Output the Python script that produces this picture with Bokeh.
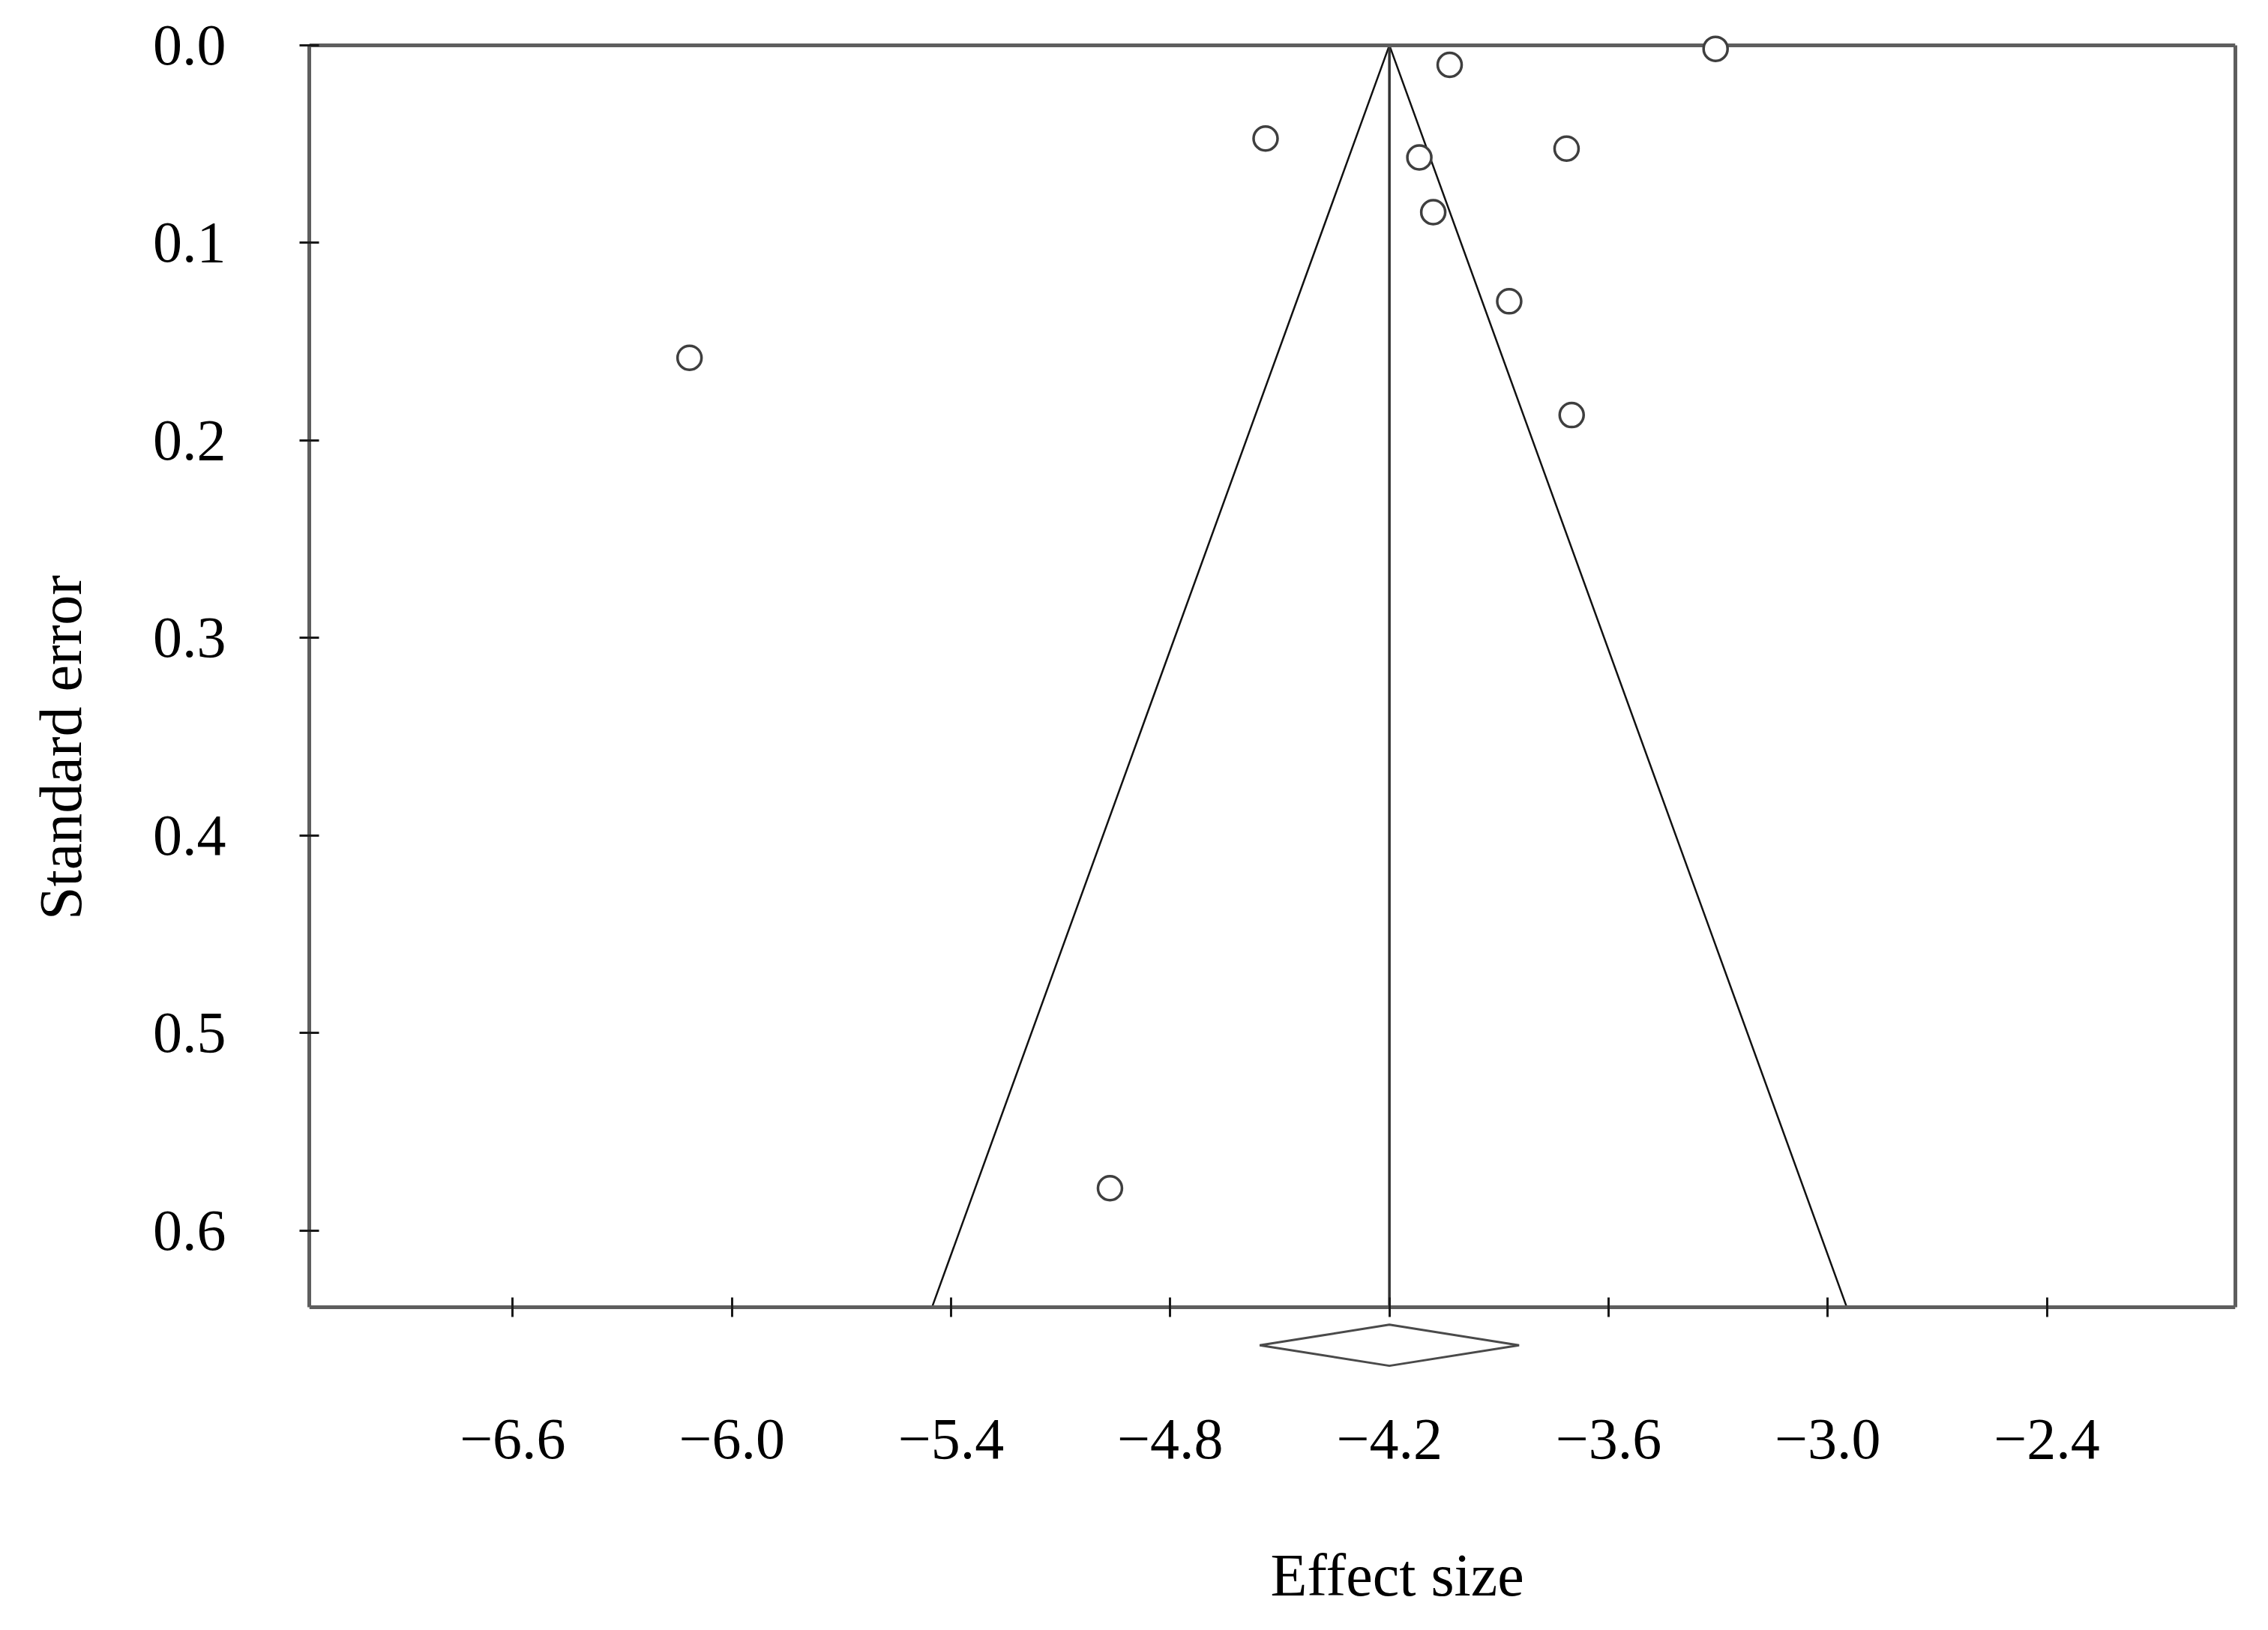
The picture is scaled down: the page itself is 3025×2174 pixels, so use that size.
from bokeh.plotting import figure
from bokeh.models import Range1d, LinearAxis, FixedTicker, CustomJSTickFormatter, Title
from bokeh.embed import file_html
from bokeh.resources import INLINE

# ---------------- data ----------------
STUDY_EFFECT = [-3.307, -4.035, -4.539, -3.715, -4.118, -4.080, -3.872, -3.701, -6.116, -4.965]
STUDY_SE = [0.0018, 0.0099, 0.0472, 0.0523, 0.0568, 0.0845, 0.1296, 0.1872, 0.1582, 0.5786]
POOLED_EFFECT = -4.20
POOLED_CI = [-4.555, -3.845]
Z_95 = 1.96
SE_MAX = 0.6387

X_TICKS = [-6.6, -6.0, -5.4, -4.8, -4.2, -3.6, -3.0, -2.4]
X_TICK_LABELS = ["\u22126.6", "\u22126.0", "\u22125.4", "\u22124.8", "\u22124.2", "\u22123.6", "\u22123.0", "\u22122.4"]
Y_TICKS = [0.0, 0.1, 0.2, 0.3, 0.4, 0.5, 0.6]
Y_TICK_LABELS = ["0.0", "0.1", "0.2", "0.3", "0.4", "0.5", "0.6"]
X_LABEL = "Effect size"
Y_LABEL = "Standard error"

# ---------------- style ----------------
FONT = "Liberation Serif"
AXIS_COLOR = "#5e5e5e"
TICK_COLOR = "#1a1a1a"

p = figure(width=3017, height=2166, output_backend="svg", toolbar_location=None,
           x_range=Range1d(-7.157, -1.884), y_range=Range1d(0.7307, -0.0197),
           min_border_left=412, min_border_right=36, min_border_top=8, min_border_bottom=181)
p.grid.visible = False
p.outline_line_color = None
p.background_fill_color = "white"
p.border_fill_color = "white"


def label_formatter(vals, texts):
    return CustomJSTickFormatter(args=dict(tick_vals=vals, tick_texts=texts), code="""
        let best = 0;
        for (let i = 0; i < tick_vals.length; i++) {
            if (Math.abs(tick_vals[i] - tick) < Math.abs(tick_vals[best] - tick)) best = i;
        }
        return tick_texts[best];
    """)


def style_axis(ax):
    ax.axis_line_color = AXIS_COLOR
    ax.axis_line_width = 5
    ax.major_tick_line_color = TICK_COLOR
    ax.major_tick_line_width = 3
    ax.major_tick_in = 13
    ax.major_tick_out = 13
    ax.minor_tick_line_color = None
    ax.major_label_text_font = FONT
    ax.major_label_text_font_size = "78px"
    ax.major_label_text_color = "black"


# bottom axis at the largest standard error
xa = p.xaxis[0]
style_axis(xa)
xa.fixed_location = SE_MAX
xa.ticker = FixedTicker(ticks=X_TICKS)
xa.formatter = label_formatter(X_TICKS, X_TICK_LABELS)
xa.major_label_standoff = 138

# left axis
ya = p.yaxis[0]
style_axis(ya)
ya.bounds = (0, SE_MAX)
ya.ticker = FixedTicker(ticks=Y_TICKS)
ya.formatter = label_formatter(Y_TICKS, Y_TICK_LABELS)
ya.major_label_standoff = 98
ya.axis_label = Y_LABEL
ya.axis_label_text_font = FONT
ya.axis_label_text_font_size = "80px"
ya.axis_label_text_font_style = "normal"
ya.axis_label_text_color = "black"
ya.axis_label_standoff = 76

# top and right borders of the box
top = LinearAxis(fixed_location=0, ticker=FixedTicker(ticks=[]))
style_axis(top)
p.add_layout(top, "above")
right = LinearAxis(bounds=(0, SE_MAX), ticker=FixedTicker(ticks=[]))
style_axis(right)
p.add_layout(right, "right")

# x-axis title
p.add_layout(Title(text=" ", text_font_size="1px", standoff=68), "below")
p.add_layout(Title(text=X_LABEL, align="left", offset=1282, vertical_align="top", standoff=0,
                   text_font=FONT, text_font_size="80px", text_font_style="normal",
                   text_color="black"), "below")

# funnel
half = Z_95 * SE_MAX
p.line([POOLED_EFFECT - half, POOLED_EFFECT, POOLED_EFFECT + half], [SE_MAX, 0, SE_MAX],
       line_color="#111111", line_width=2.5)
p.line([POOLED_EFFECT, POOLED_EFFECT], [0, SE_MAX], line_color="#333333", line_width=3.5)

# pooled-estimate diamond below the axis
DY, DH = 0.6581, 0.0104
p.patch([POOLED_CI[0], POOLED_EFFECT, POOLED_CI[1], POOLED_EFFECT],
        [DY, DY - DH, DY, DY + DH],
        fill_color="white", line_color="#4a4a4a", line_width=3)

# studies
r = p.scatter(STUDY_EFFECT, STUDY_SE, size=32, marker="circle", fill_color="white",
              line_color="#3f3f3f", line_width=3.5)
r.level = "overlay"

open("out.html", "w").write(file_html(p, INLINE))
